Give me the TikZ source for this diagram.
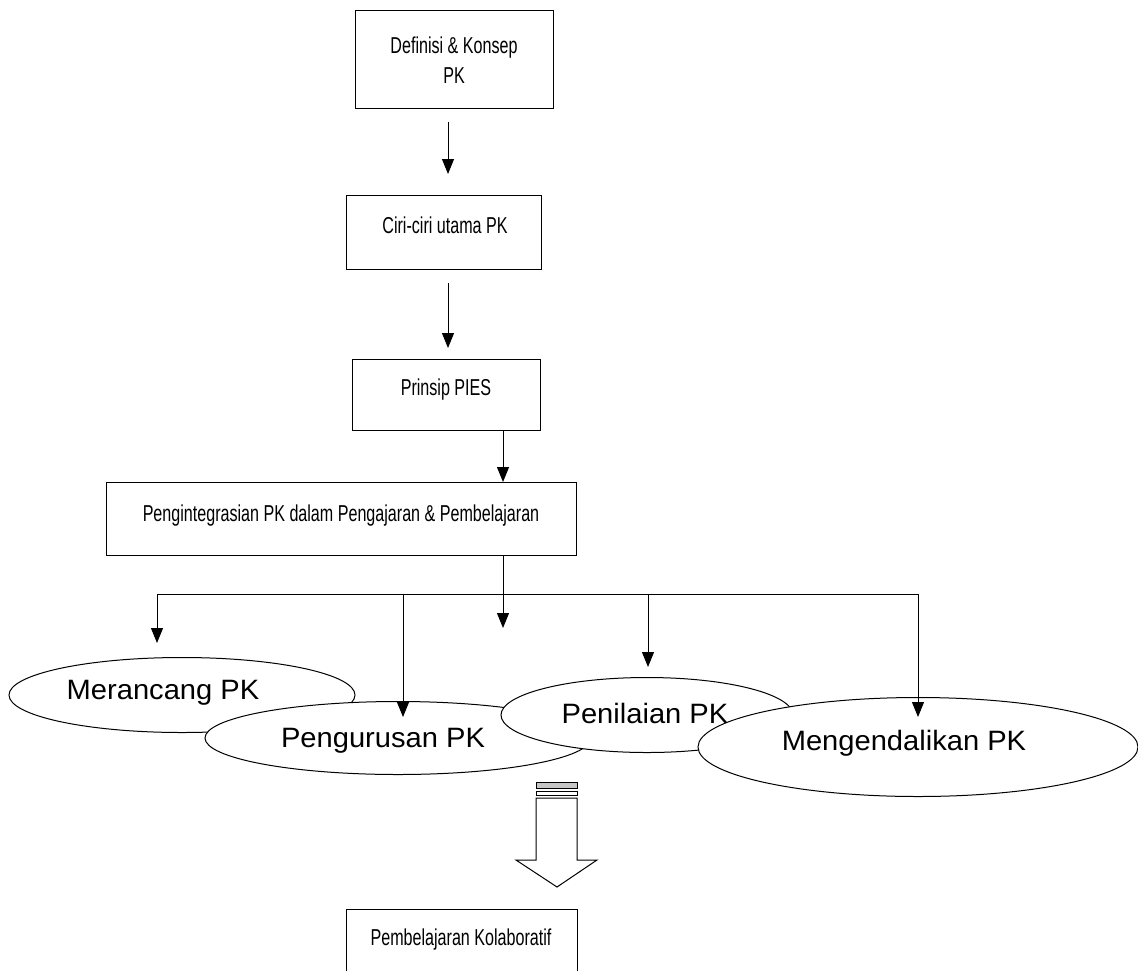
\documentclass[tikz,border=0pt]{standalone}
\usepackage{fontspec}
\setmainfont{Liberation Sans}
\usetikzlibrary{arrows.meta,shapes.geometric}
\tikzset{
  boxshape/.style={draw, line width=1pt, anchor=north west, inner sep=0pt},
  boxtext/.style={font=\fontsize{23}{30}\selectfont, align=center, inner sep=0pt, xscale=0.70},
  ovalshape/.style={draw, line width=1pt, fill=white},
  ovaltext/.style={font=\fontsize{28}{32}\selectfont, inner sep=0pt, xscale=1.04},
  link/.style={line width=1pt, -{Triangle[length=15pt,width=12pt]}},
  plain/.style={line width=1pt}
}
\begin{document}
\begin{tikzpicture}[x=1pt,y=-1pt]
\useasboundingbox (0,0) rectangle (1138,970);
% boxes
\node[boxshape, minimum width=198pt, minimum height=98pt] (b1) at (355,10) {};
\node[boxtext] (t1) at (454,60) {Definisi \& Konsep\\PK};
\node[boxshape, minimum width=195pt, minimum height=74pt] (b2) at (346,195) {};
\node[boxtext] (t2) at (445,225) {Ciri-ciri utama PK};
\node[boxshape, minimum width=188pt, minimum height=71pt] (b3) at (352,359) {};
\node[boxtext] (t3) at (446,390) {Prinsip PIES};
\node[boxshape, minimum width=470pt, minimum height=73pt] (b4) at (106,482) {};
\node[boxtext] (t4) at (341,516) {Pengintegrasian PK dalam Pengajaran \& Pembelajaran};
\node[boxshape, minimum width=231pt, minimum height=80pt] (b5) at (346,909) {};
\node[boxtext] (t5) at (461,940) {Pembelajaran Kolaboratif};
% floating arrows
\coordinate (a1s) at (448,122); \coordinate (a1e) at (448,174);
\coordinate (a2s) at (448,283); \coordinate (a2e) at (448,348);
\draw[link] (a1s) -- (a1e);
\draw[link] (a2s) -- (a2e);
\draw[link] (b3.south -| 503,0) -- (b4.north -| 503,0);
% branching
\coordinate (hl) at (157,594); \coordinate (hr) at (919,594);
\coordinate (trunkend) at (503,628);
\draw[plain] (hl) -- (hr);
\draw[link] (b4.south -| trunkend) -- (trunkend);
% ellipses
\draw[ovalshape] (182,695) ellipse [x radius=173, y radius=37.5];
\node[ovaltext] (e1) at (163,693) {Merancang PK};
\draw[ovalshape] (398,738) ellipse [x radius=193, y radius=36.5];
\node[ovaltext] (e2) at (383,741) {Pengurusan PK};
\draw[ovalshape] (647,715) ellipse [x radius=146, y radius=37.5];
\node[ovaltext] (e3) at (645,713) {Penilaian PK};
\draw[ovalshape] (918,747) ellipse [x radius=220, y radius=49.5];
\node[ovaltext] (e4) at (904,743) {Mengendalikan PK};
% drops
\coordinate (d1) at (157,643); \coordinate (d2) at (403,717);
\coordinate (d3) at (648,667); \coordinate (d4) at (918,717);
\draw[link] (hl) -- (d1);
\draw[link] (hl -| d2) -- (d2);
\draw[link] (hl -| d3) -- (d3);
\draw[link] (hl -| d4) -- (d4);
% hollow arrow
\draw[line width=1pt, fill=gray!45] (536,782) rectangle (577,788);
\draw[line width=1pt] (536,791) rectangle (577,795);
\draw[line width=1pt, fill=white] (536,798) -- (577,798) -- (577,860) -- (597,860) -- (557,887) -- (516,860) -- (536,860) -- cycle;
\end{tikzpicture}
\end{document}
